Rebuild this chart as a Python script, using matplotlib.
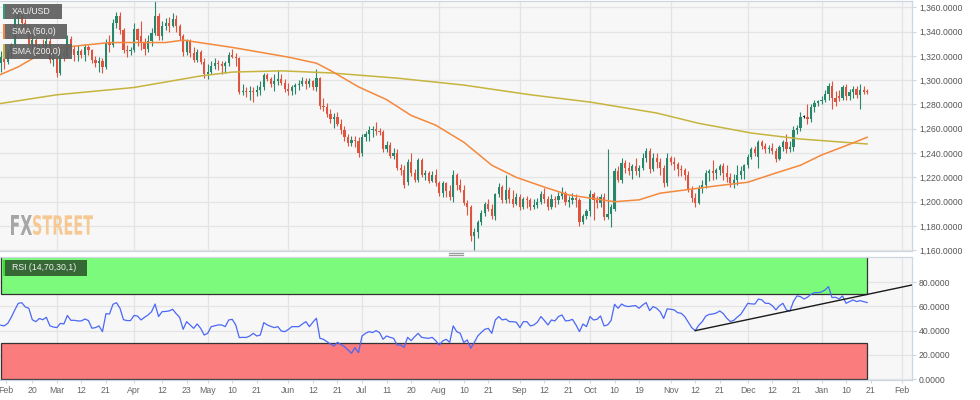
"""XAU/USD daily candles with SMA 50/200 and RSI(14) panel, FXStreet style."""
import numpy as np
import pandas as pd
import matplotlib
matplotlib.use("Agg")
import matplotlib.pyplot as plt
import matplotlib.patches as mpatches
import matplotlib.transforms as mtransforms
from matplotlib.lines import Line2D
from matplotlib.textpath import TextPath
from matplotlib.font_manager import FontProperties

plt.rcParams["font.family"] = ["Liberation Sans", "DejaVu Sans"]

ORIGIN = "2018-02-01"          # weekday axis origin
FIRST_DAY = "2018-02-07"
LAST_DAY = "2019-01-18"

# daily OHLC, one line per month (Feb 2018 .. Jan 2019)
OPENS = [
    1314, 1319, 1315, 1323, 1329, 1350, 1354, 1347, 1344, 1330, 1333, 1321, 1327, 1325, 1332, 1317,
    1318, 1306, 1322, 1320, 1334, 1326, 1321, 1324, 1321, 1327, 1325, 1317, 1314, 1316, 1311, 1331, 1329, 1347, 1353, 1341, 1325, 1324,
    1325, 1342, 1336, 1331, 1326, 1332, 1339, 1353, 1336, 1345, 1347, 1345, 1350, 1345, 1336, 1323, 1332, 1322, 1317, 1323, 1315,
    1305, 1307, 1312, 1314, 1313, 1312, 1314, 1321, 1319, 1318, 1290, 1291, 1290, 1291, 1290, 1292, 1294, 1304, 1301, 1297, 1299, 1301, 1298,
    1293, 1291, 1294, 1296, 1297, 1299, 1297, 1299, 1294, 1302, 1279, 1278, 1272, 1268, 1270, 1264, 1259, 1253, 1248, 1251, 1250,
    1240, 1253, 1256, 1259, 1260, 1258, 1257, 1243, 1247, 1238, 1240, 1228, 1226, 1216, 1233, 1224, 1218, 1234, 1222, 1224, 1217, 1222,
    1215, 1207, 1215, 1209, 1204, 1222, 1214, 1210, 1199, 1196, 1172, 1175, 1183, 1191, 1198, 1194, 1188, 1206, 1212, 1201, 1210, 1202, 1198,
    1204, 1196, 1202, 1201, 1196, 1197, 1200, 1206, 1202, 1196, 1202, 1201, 1205, 1207, 1200, 1201, 1203, 1201, 1183, 1188,
    1192, 1206, 1201, 1199, 1204, 1187, 1190, 1194, 1225, 1218, 1232, 1228, 1225, 1229, 1225, 1228, 1236, 1242, 1227, 1236, 1233, 1228, 1215,
    1236, 1233, 1231, 1227, 1226, 1222, 1210, 1203, 1199, 1211, 1214, 1224, 1225, 1224, 1226, 1229, 1224, 1220, 1215, 1218, 1222, 1225,
    1230, 1237, 1243, 1237, 1249, 1246, 1243, 1244, 1242, 1235, 1245, 1249, 1243, 1245, 1259, 1261, 1270, 1270, 1268, 1278, 1281,
    1283, 1284, 1289, 1295, 1285, 1287, 1285, 1294, 1287, 1290, 1293, 1288, 1292, 1291,
]
HIGHS = [
    1324, 1322, 1326, 1331, 1355, 1357, 1356, 1350, 1346, 1338, 1335, 1330, 1334, 1340, 1335, 1323,
    1319, 1325, 1326, 1337, 1336, 1329, 1329, 1326, 1330, 1329, 1326, 1320, 1319, 1318, 1334, 1337, 1350, 1356, 1356, 1343, 1329, 1327,
    1347, 1343, 1349, 1335, 1337, 1343, 1365, 1355, 1349, 1351, 1352, 1355, 1354, 1346, 1338, 1334, 1334, 1327, 1326, 1325, 1318,
    1313, 1316, 1318, 1317, 1316, 1316, 1323, 1326, 1322, 1319, 1297, 1294, 1295, 1294, 1296, 1299, 1306, 1306, 1303, 1305, 1308, 1305, 1301,
    1298, 1296, 1298, 1300, 1303, 1302, 1302, 1300, 1309, 1303, 1285, 1281, 1276, 1273, 1274, 1268, 1262, 1256, 1254, 1254, 1253,
    1256, 1258, 1262, 1262, 1266, 1261, 1259, 1250, 1249, 1244, 1243, 1231, 1230, 1235, 1240, 1227, 1236, 1236, 1226, 1225, 1225, 1227,
    1217, 1217, 1216, 1214, 1226, 1224, 1219, 1214, 1201, 1197, 1178, 1185, 1193, 1200, 1202, 1198, 1207, 1215, 1214, 1222, 1212, 1210, 1207,
    1206, 1204, 1205, 1203, 1202, 1203, 1209, 1211, 1205, 1206, 1205, 1208, 1212, 1209, 1205, 1207, 1206, 1203, 1190, 1194,
    1210, 1208, 1205, 1206, 1207, 1243, 1198, 1228, 1229, 1236, 1234, 1233, 1231, 1236, 1230, 1240, 1244, 1244, 1240, 1240, 1236, 1230, 1240,
    1238, 1237, 1233, 1230, 1228, 1225, 1213, 1207, 1214, 1218, 1226, 1227, 1234, 1228, 1231, 1232, 1230, 1224, 1223, 1230, 1229, 1231,
    1239, 1245, 1246, 1251, 1251, 1248, 1247, 1248, 1244, 1247, 1251, 1256, 1250, 1262, 1263, 1274, 1271, 1280, 1280, 1284, 1284,
    1287, 1292, 1298, 1299, 1291, 1292, 1296, 1297, 1293, 1295, 1295, 1297, 1295, 1293,
]
LOWS = [
    1307, 1309, 1313, 1318, 1325, 1345, 1341, 1338, 1327, 1324, 1318, 1319, 1323, 1322, 1314, 1312,
    1303, 1304, 1316, 1318, 1322, 1316, 1316, 1318, 1316, 1321, 1314, 1311, 1307, 1306, 1309, 1323, 1327, 1343, 1338, 1322, 1319, 1321,
    1323, 1328, 1325, 1321, 1323, 1328, 1337, 1333, 1333, 1341, 1340, 1344, 1340, 1333, 1320, 1321, 1319, 1315, 1315, 1313, 1302,
    1301, 1305, 1309, 1308, 1305, 1306, 1312, 1318, 1312, 1289, 1288, 1286, 1284, 1282, 1287, 1288, 1292, 1299, 1294, 1291, 1296, 1296, 1290,
    1288, 1288, 1289, 1292, 1295, 1293, 1294, 1292, 1291, 1276, 1275, 1270, 1265, 1261, 1262, 1256, 1250, 1246, 1246, 1245, 1237,
    1238, 1250, 1250, 1253, 1255, 1255, 1241, 1241, 1236, 1235, 1226, 1222, 1211, 1214, 1221, 1216, 1216, 1220, 1218, 1215, 1216, 1213,
    1205, 1204, 1204, 1201, 1200, 1210, 1208, 1197, 1189, 1168, 1160, 1170, 1181, 1188, 1192, 1186, 1185, 1204, 1199, 1199, 1199, 1196, 1197,
    1193, 1194, 1195, 1193, 1194, 1195, 1198, 1199, 1193, 1194, 1196, 1198, 1202, 1197, 1196, 1198, 1196, 1180, 1182, 1186,
    1188, 1185, 1195, 1196, 1185, 1186, 1179, 1192, 1216, 1215, 1224, 1222, 1219, 1222, 1220, 1226, 1233, 1224, 1225, 1228, 1222, 1212, 1213,
    1230, 1226, 1221, 1221, 1218, 1208, 1200, 1196, 1198, 1207, 1211, 1217, 1218, 1219, 1222, 1218, 1216, 1212, 1211, 1214, 1219, 1219,
    1228, 1235, 1238, 1228, 1243, 1240, 1240, 1239, 1233, 1234, 1242, 1240, 1241, 1242, 1256, 1258, 1269, 1264, 1266, 1274, 1279,
    1280, 1282, 1284, 1276, 1279, 1283, 1284, 1284, 1284, 1285, 1285, 1276, 1289, 1289,
]
CLOSES = [
    1319, 1315, 1323, 1329, 1350, 1354, 1347, 1344, 1330, 1333, 1321, 1327, 1325, 1332, 1317, 1318,
    1306, 1322, 1320, 1334, 1326, 1321, 1324, 1321, 1327, 1325, 1317, 1314, 1316, 1311, 1331, 1329, 1347, 1353, 1341, 1325, 1324, 1325,
    1342, 1333, 1331, 1326, 1332, 1339, 1353, 1336, 1345, 1347, 1345, 1350, 1345, 1336, 1323, 1332, 1322, 1317, 1323, 1315, 1305,
    1307, 1312, 1314, 1313, 1312, 1314, 1321, 1319, 1318, 1290, 1291, 1290, 1291, 1290, 1292, 1294, 1304, 1301, 1297, 1299, 1301, 1298, 1293,
    1291, 1294, 1296, 1297, 1299, 1297, 1299, 1294, 1302, 1279, 1278, 1272, 1268, 1270, 1264, 1259, 1253, 1248, 1251, 1250, 1240,
    1253, 1256, 1259, 1260, 1258, 1257, 1243, 1247, 1238, 1240, 1228, 1226, 1214, 1233, 1224, 1218, 1234, 1222, 1224, 1217, 1222, 1215,
    1207, 1215, 1209, 1204, 1222, 1214, 1210, 1199, 1196, 1172, 1175, 1183, 1191, 1198, 1194, 1188, 1206, 1212, 1201, 1210, 1202, 1198, 1204,
    1196, 1202, 1201, 1196, 1197, 1200, 1206, 1202, 1196, 1202, 1201, 1205, 1207, 1200, 1201, 1203, 1201, 1183, 1188, 1192,
    1206, 1201, 1199, 1204, 1187, 1190, 1196, 1225, 1218, 1232, 1228, 1225, 1229, 1225, 1228, 1236, 1242, 1227, 1236, 1233, 1228, 1215, 1236,
    1233, 1231, 1227, 1226, 1222, 1210, 1203, 1199, 1211, 1214, 1224, 1225, 1224, 1226, 1229, 1224, 1220, 1215, 1218, 1222, 1225, 1230,
    1237, 1243, 1240, 1249, 1246, 1243, 1244, 1242, 1235, 1245, 1249, 1243, 1245, 1259, 1261, 1270, 1270, 1268, 1278, 1281, 1283,
    1284, 1289, 1295, 1285, 1282, 1285, 1294, 1287, 1290, 1293, 1288, 1292, 1290, 1290,
]
RSI = [
    44.5, 43.9, 46, 51, 57, 62.5, 63, 59.5, 58.4, 49, 47.4, 50, 49, 51, 44, 43,
    42.5, 46, 45.5, 52.5, 48.5, 48.5, 48, 48, 49.6, 48.3, 42, 42.5, 43.9, 39.2, 54, 53.7, 61.7, 63, 58.4, 49, 48.3, 48.3,
    52.5, 52, 48.8, 51, 52.9, 55.6, 61.9, 51.6, 55.6, 55.8, 56.2, 57.6, 54, 51, 41.1, 47.4, 44.7, 41.9, 45.5, 41.9, 36.4,
    37.8, 43.3, 44, 44.7, 44.7, 43.3, 48.8, 49.3, 44.7, 34.3, 34.5, 34.4, 35.6, 37.8, 35.6, 36.4, 46.6, 44.7, 43.5, 42.5, 43.3, 39.7, 39.2,
    41, 43.3, 43.3, 43.3, 45.5, 47.4, 43.3, 47, 50.2, 33.7, 32.9, 31, 29, 27.4, 30.4, 28.5, 26.9, 24.1, 21.4, 26, 21.9,
    35.6, 37.8, 39.2, 38.4, 40, 38.4, 32.9, 35.6, 34.5, 33.7, 28.2, 28.2, 26.3, 34.5, 31.8, 35, 37.8, 34.5, 34, 33.7, 34.5, 31.8,
    28.2, 31.5, 32.9, 30.4, 43.9, 39.2, 37.8, 30.2, 32.4, 25.5, 30.2, 35.6, 38.5, 41.1, 41.9, 37.8, 48.8, 51.6, 48.8, 49.6, 47.4, 47.4, 46.9,
    42.5, 47.4, 47.4, 43.9, 44.7, 47, 51.6, 48.3, 44.7, 48.8, 48, 51.6, 52.9, 48, 48.3, 49.3, 44.7, 39.2, 45.5, 43.3,
    51.6, 48.8, 49.3, 52.1, 43.9, 44.7, 48.3, 61.7, 58.4, 61.9, 60.3, 59.8, 60.3, 60.6, 58.4, 61.1, 63.1, 56.5, 59.8, 58.4, 55.6, 50, 57.9,
    57.6, 57.1, 54.8, 54.3, 51.6, 47, 42.5, 40, 44.5, 47.4, 52, 53.4, 53.7, 54.5, 56.2, 54, 50.2, 47.5, 48.5, 51.2, 53.5, 58,
    62.5, 62, 61.9, 66, 65.3, 62.5, 62.5, 60.5, 57.1, 60.5, 62.5, 57, 56.2, 64, 68.6, 68, 66, 67.5, 69.9, 71.3, 71.3,
    71.8, 73.5, 76.2, 67.2, 67.5, 66, 68.6, 62.5, 63.9, 65.3, 63.9, 64.7, 63.9, 63.1,
]

SMA50_DATES = ["2018-02-06", "2018-02-14", "2018-02-22", "2018-03-01", "2018-03-08", "2018-03-22",
               "2018-04-13", "2018-04-20", "2018-05-10", "2018-05-22", "2018-06-01", "2018-06-13",
               "2018-06-19", "2018-06-29", "2018-07-11", "2018-07-20", "2018-07-31", "2018-08-10",
               "2018-08-22", "2018-08-31", "2018-09-12", "2018-09-21", "2018-10-01", "2018-10-10",
               "2018-10-19", "2018-10-29", "2018-11-07", "2018-11-20", "2018-12-03", "2018-12-13",
               "2018-12-24", "2019-01-01", "2019-01-09", "2019-01-18"]
SMA50_VALS = [1303.5, 1311, 1321, 1326, 1328, 1331, 1331, 1333, 1327, 1323, 1319, 1314,
              1308, 1294.5, 1284, 1271, 1263, 1249, 1230, 1220, 1212, 1205.5, 1203, 1200,
              1201.5, 1207, 1209.6, 1213, 1216, 1223.6, 1230, 1238.4, 1245, 1253]

SMA200_DATES = ["2018-02-06", "2018-03-01", "2018-04-02", "2018-04-27", "2018-05-10", "2018-05-30",
                "2018-06-19", "2018-07-16", "2018-08-10", "2018-09-06", "2018-10-01", "2018-10-26",
                "2018-11-13", "2018-12-04", "2018-12-24", "2019-01-18"]
SMA200_VALS = [1280.4, 1288, 1294, 1303.5, 1306.7, 1307.7, 1306, 1301.7, 1296, 1288, 1282, 1273,
               1264.5, 1256.5, 1251.6, 1247.5]

TREND_DATES = ["2018-11-12", "2019-02-06"]
TREND_VALS = [40.0, 77.7]

TICK_DATES = ["2018-02-01", "2018-02-20", "2018-03-01", "2018-03-12", "2018-03-21", "2018-04-01",
              "2018-04-12", "2018-04-23", "2018-05-01", "2018-05-10", "2018-05-21", "2018-06-01",
              "2018-06-12", "2018-06-21", "2018-07-01", "2018-07-11", "2018-07-20", "2018-08-01",
              "2018-08-10", "2018-08-21", "2018-09-01", "2018-09-12", "2018-09-21", "2018-10-01",
              "2018-10-10", "2018-10-19", "2018-11-01", "2018-11-12", "2018-11-21", "2018-12-01",
              "2018-12-12", "2018-12-21", "2019-01-01", "2019-01-10", "2019-01-21", "2019-02-01"]
TICK_LABELS = ["Feb", "20", "Mar", "12", "21", "Apr", "12", "23", "May", "10", "21", "Jun",
               "12", "21", "Jul", "11", "20", "Aug", "10", "21", "Sep", "12", "21", "Oct",
               "10", "19", "Nov", "12", "21", "Dec", "12", "21", "Jan", "10", "21", "Feb"]
MONTH_STARTS = ["2018-03-01", "2018-04-01", "2018-05-01", "2018-06-01", "2018-07-01", "2018-08-01",
                "2018-09-01", "2018-10-01", "2018-11-01", "2018-12-01", "2019-01-01", "2019-02-01"]
PRICE_TICKS = list(range(1160, 1361, 20))
RSI_TICKS = [0, 20, 40, 60, 80]

UP = "#26876a"
DOWN = "#e0533f"
GRID = "#e4e4e4"
FRAME = "#cdd6e3"
W, H = 980, 400


def pos(dates):
    return np.busday_count(ORIGIN, np.array(dates, dtype="datetime64[D]"))


def px_rect(fig, x, y, w, h, **kw):
    r = mpatches.Rectangle((x / W, 1 - (y + h) / H), w / W, h / H,
                           transform=fig.transFigure, **kw)
    fig.add_artist(r)


def legend_box(fig, x, y, w, h, label, bg, bar):
    px_rect(fig, x, y, w, h, fc=bg, ec="none", alpha=0.92, zorder=10)
    px_rect(fig, x, y, 2, h, fc=bar, ec="none", zorder=11)
    fig.text((x + 9) / W, 1 - (y + h / 2) / H, label, color="#f2f2f2",
             fontsize=6.3, va="center", ha="left", zorder=12)


def watermark(fig):
    fp = FontProperties(family="DejaVu Sans", weight="bold")
    x0 = 11
    for txt, col, w in (("FX", "#a6a6a6", 21), ("STREET", "#f6c994", 60)):
        tp = TextPath((0, 0), txt, size=100, prop=fp)
        bb = tp.get_extents()
        tr = (mtransforms.Affine2D().translate(-bb.x0, -bb.y0)
              .scale(w / bb.width, 20 / bb.height).translate(x0, H - 235))
        fig.add_artist(mpatches.PathPatch(tp, transform=tr, fc=col, ec="none", zorder=5))
        x0 += w + 1


def style_axis(ax, fmt):
    ax.set_facecolor("#f7f7f7")
    ax.yaxis.tick_right()
    ax.yaxis.set_major_formatter(plt.FuncFormatter(fmt))
    ax.tick_params(axis="y", colors=FRAME, labelcolor="#555555", labelsize=6.2,
                   length=3, width=0.8, pad=2)
    ax.grid(axis="y", color=GRID, lw=0.9)
    for m in pos(MONTH_STARTS):
        ax.axvline(m, color=GRID, lw=0.9, zorder=0.5)
    ax.set_axisbelow(True)
    ax.spines["left"].set_visible(False)
    for s in ("top", "right", "bottom"):
        ax.spines[s].set_color(FRAME)
        ax.spines[s].set_linewidth(0.9)


def main():
    dates = pd.bdate_range(FIRST_DAY, LAST_DAY).values.astype("datetime64[D]")
    x = pos(dates)
    o, h, l, c = (np.array(v, dtype=float) for v in (OPENS, HIGHS, LOWS, CLOSES))
    rsi = np.array(RSI)
    assert len(x) == len(o) == len(h) == len(l) == len(c) == len(rsi)

    xlim = (3.79, 263.8)
    fig = plt.figure(figsize=(W / 100, H / 100), dpi=100)
    ax = fig.add_axes([0, 149 / H, 912 / W, 250 / H])
    ax2 = fig.add_axes([0, 20 / H, 912 / W, 123 / H])

    # price panel
    style_axis(ax, lambda v, p: f"{v:,.4f}")
    ax.set_xlim(*xlim)
    ax.set_ylim(1159.4, 1365.2)
    ax.set_yticks(PRICE_TICKS)
    ax.tick_params(axis="x", bottom=False, labelbottom=False)

    cols = np.where(c > o, UP, np.where(c < o, DOWN, "#222222"))
    ax.vlines(x, l, h, colors=cols, lw=0.8, zorder=2)
    ax.bar(x, np.maximum(np.abs(c - o), 0.5), bottom=np.minimum(o, c), width=0.62,
           color=cols, lw=0, zorder=2)
    ax.plot(pos(SMA200_DATES), SMA200_VALS, color="#c6b43e", lw=1.1, zorder=3)
    ax.plot(pos(SMA50_DATES), SMA50_VALS, color="#f4883c", lw=1.1, zorder=3)

    # RSI panel
    style_axis(ax2, lambda v, p: f"{v:.4f}")
    ax2.set_xlim(*xlim)
    ax2.set_ylim(-0.6, 100.6)
    ax2.set_yticks(RSI_TICKS)
    end = x[-1] + 0.05
    ax2.add_patch(mpatches.Rectangle((xlim[0] + 0.15, 70), end - xlim[0] - 0.15, 35,
                                     fc="#7cfa7c", ec="#333333", lw=0.9, zorder=1))
    ax2.add_patch(mpatches.Rectangle((xlim[0] + 0.15, 0), end - xlim[0] - 0.15, 30,
                                     fc="#fa7c7c", ec="#333333", lw=0.9, zorder=1))
    ax2.plot(x, rsi, color="#4a68f5", lw=0.9, zorder=3)
    ax2.plot(pos(TREND_DATES), TREND_VALS, color="#1a1a1a", lw=1.0, zorder=4)

    tpos = np.maximum(pos(TICK_DATES).astype(float), 5.4)
    ax2.set_xticks(tpos)
    ax2.set_xticklabels(TICK_LABELS)
    ax2.tick_params(axis="x", colors=FRAME, labelcolor="#666666", labelsize=6.3,
                    length=2.5, width=0.8, pad=2)

    # panel separator handle
    for yy in (252.8, 255.2):
        fig.add_artist(Line2D([449 / W, 463 / W], [1 - yy / H, 1 - yy / H],
                              color="#9a9a9a", lw=0.9))

    legend_box(fig, 3, 4, 59, 15, "XAU/USD", "#5e5e5e", "#2f9c78")
    legend_box(fig, 3, 24, 64, 15, "SMA (50,0)", "#5e5e5e", "#f4883c")
    legend_box(fig, 3, 44, 69, 15, "SMA (200,0)", "#5e5e5e", "#c6b43e")
    legend_box(fig, 3, 260, 84, 16, "RSI (14,70,30,1)", "#2f5c2f", "#36e036")
    watermark(fig)

    fig.savefig("out.png", dpi=100, facecolor="white")
    plt.close(fig)


if __name__ == "__main__":
    main()
